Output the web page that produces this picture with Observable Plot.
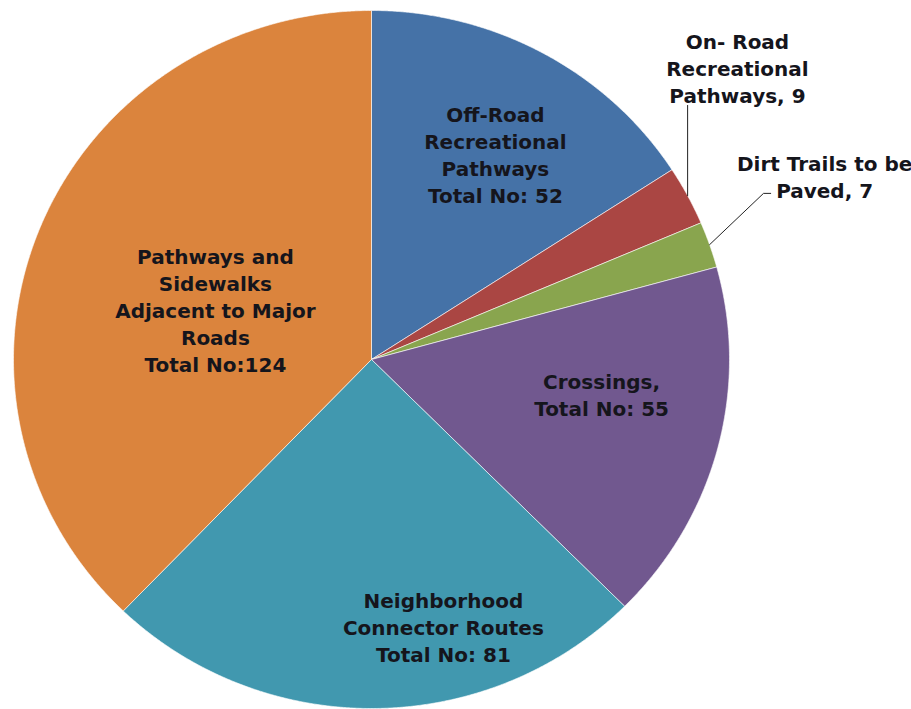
<!DOCTYPE html>
<html>
<head>
<meta charset="utf-8">
<script src="https://cdn.jsdelivr.net/npm/d3@7"></script>
<script src="https://cdn.jsdelivr.net/npm/@observablehq/plot@0.6"></script>
<style>
  html, body { margin: 0; padding: 0; background: #fff; }
  #chart svg { display: block; }
</style>
</head>
<body>
<div id="chart"></div>
<script>
// ---- data ----
const categories = [
  "Off-Road Recreational Pathways",
  "On-Road Recreational Pathways",
  "Dirt Trails to be Paved",
  "Crossings",
  "Neighborhood Connector Routes",
  "Pathways and Sidewalks Adjacent to Major Roads"
];
const values = [52, 9, 7, 55, 81, 124];
const labelTemplates = [
  "Off-Road\nRecreational\nPathways\nTotal No: {v}",
  "On- Road\nRecreational\nPathways, {v}",
  "Dirt Trails to be\nPaved, {v}",
  "Crossings,\nTotal No: {v}",
  "Neighborhood\nConnector Routes\nTotal No: {v}",
  "Pathways and\nSidewalks\nAdjacent to Major\nRoads\nTotal No:{v}"
];
const colors = ["#4572A7", "#AA4643", "#89A54E", "#71588F", "#4198AF", "#DB843D"];

// ---- layout (label placement in polar terms: angle in degrees, radius fraction) ----
const labelPlacement = [[30.4, 0.684], [50.7, 1.321], [67.4, 1.371], [98.6, 0.650], [165.3, 0.791], [288.2, 0.459]];
// leader lines for outside labels: intermediate points in unit-circle coords
const leaderPath = {1: [[0.883, 0.728]], 2: [[1.095, 0.476], [1.115, 0.476]]};

const W = 911, H = 709, cx = 371, cy = 359, rx = 358, ry = 349;

const arcs = d3.pie().sort(null).value(d => d.value)(categories.map((name, i) => ({name, value: values[i]})));

const slicePts = [];
arcs.forEach(a => {
  slicePts.push({name: a.data.name, x: 0, y: 0});
  const n = Math.max(4, Math.ceil((a.endAngle - a.startAngle) / 0.004));
  for (let k = 0; k <= n; k++) {
    const t = a.startAngle + (a.endAngle - a.startAngle) * k / n;
    slicePts.push({name: a.data.name, x: Math.sin(t), y: Math.cos(t)});
  }
  slicePts.push({name: a.data.name, x: 0, y: 0});
});

const labels = arcs.map((a, i) => {
  const [deg, r] = labelPlacement[i];
  const t = deg * Math.PI / 180;
  return {text: labelTemplates[i].replace("{v}", values[i]), x: r * Math.sin(t), y: r * Math.cos(t)};
});

const leaders = [];
Object.keys(leaderPath).forEach(k => {
  const a = arcs[+k];
  const m = (a.startAngle + a.endAngle) / 2;
  leaders.push({id: k, x: Math.sin(m), y: Math.cos(m)});
  leaderPath[k].forEach(([x, y]) => leaders.push({id: k, x, y}));
});

const chart = Plot.plot({
  width: W,
  height: H,
  margin: 0,
  x: {domain: [-cx / rx, (W - cx) / rx], axis: null},
  y: {domain: [-(H - cy) / ry, cy / ry], axis: null},
  color: {domain: categories, range: colors},
  style: {background: "#fff"},
  marks: [
    Plot.line(slicePts, {x: "x", y: "y", z: "name", fill: "name", stroke: "#ffffff", strokeOpacity: 0.6, strokeWidth: 1, curve: "linear"}),
    Plot.line(leaders, {x: "x", y: "y", z: "id", stroke: "#222", strokeWidth: 1}),
    Plot.text(labels, {x: "x", y: "y", text: "text", fontSize: 20, fontWeight: "bold", lineHeight: 1.35, fill: "#15151c", fontFamily: "DejaVu Sans"})
  ]
});
document.getElementById("chart").appendChild(chart);
</script>
</body>
</html>
